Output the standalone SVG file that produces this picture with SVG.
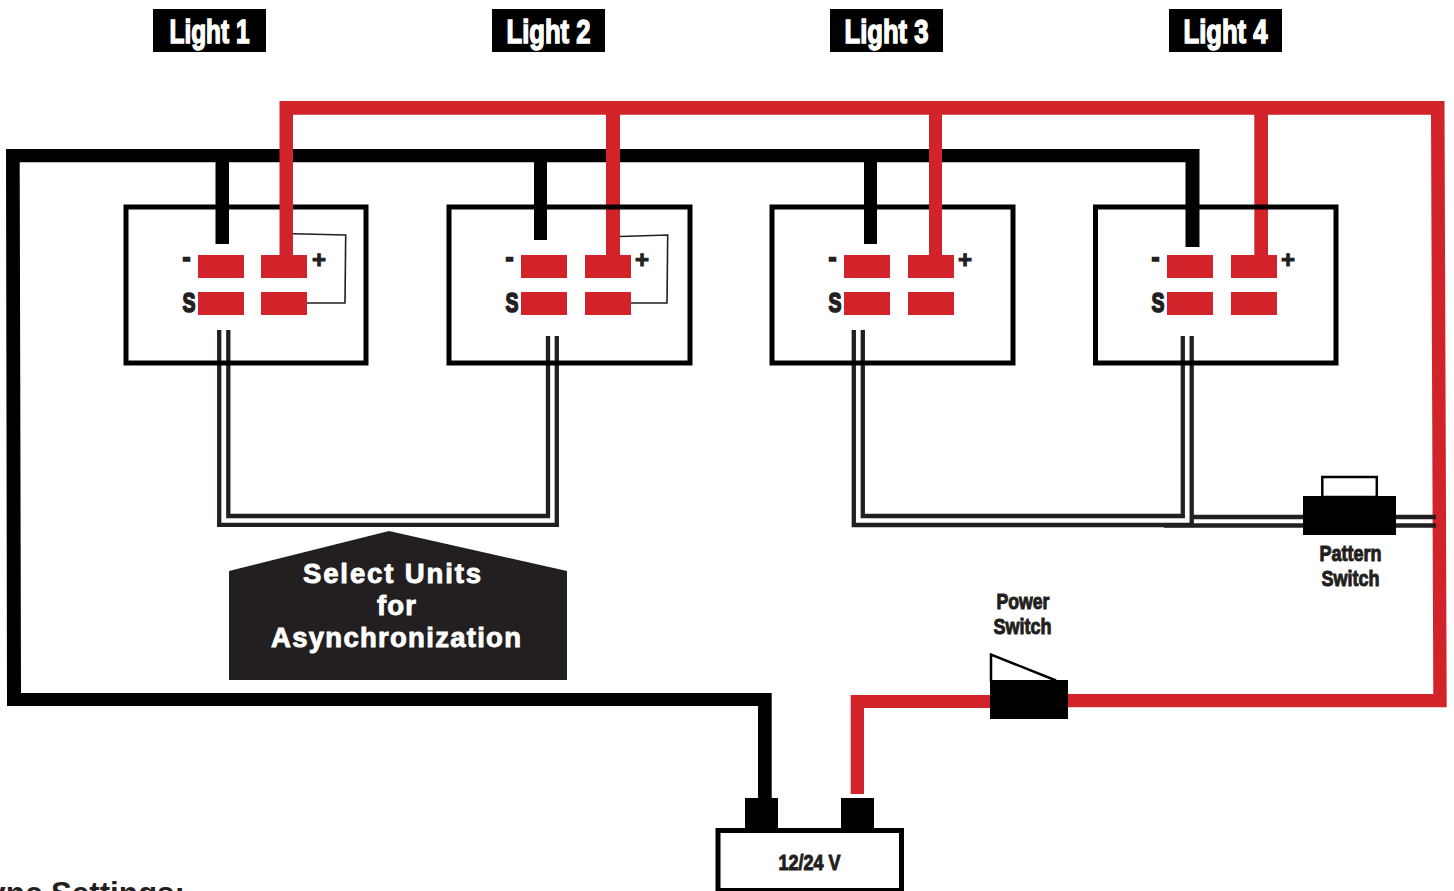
<svg xmlns="http://www.w3.org/2000/svg" width="1454" height="891" viewBox="0 0 1454 891">
<style>
.t{font-family:"Liberation Sans",Arial,sans-serif;font-weight:bold}
.d{fill:#231f20;stroke:#231f20;stroke-width:1}
.m{fill:#231f20;stroke:#231f20;stroke-width:1.7}
.w{fill:#fff;stroke:#fff;stroke-width:1.5}
.frame{fill:none;stroke:#000;stroke-width:5}
.pad{fill:#d2232a}
.blk{fill:#000}
.red{fill:#d2232a}
.thin{fill:none;stroke:#231f20;stroke-width:1.6}
.sig{fill:none;stroke:#231f20;stroke-width:4.3}
.sel{fill:#fff;stroke:#fff;stroke-width:.9;font-size:27.500px}
</style>
<rect width="1454" height="891" fill="#fff"/>
<g id="connectors">
<path class="blk" d="M6 149H1199.500V247H1185.500V162.300H877V244H864V162.300H547V240H534V162.300H229V244H215.500V162.300H19.700L21 693H758V706H7Z"/>
<path class="blk" d="M758 693H771.700V798H758Z"/>
<path class="red" d="M279.500 101H1444.500L1446.700 707.300H1068V694H1433.300L1431 114.700H1268V255H1254.300V114.700H942V255H929V114.700H620V255H606V114.700H293V255H279.500Z"/>
<path class="red" d="M990 695V708H864V794H850.700V695Z"/>
<path class="thin" d="M293 233.700L345.700 235L345 303H307"/>
<path class="thin" d="M620 236.500L667.700 235L667 303H631"/>
<path class="sig" d="M219.200 330V524.800H556.800V336"/>
<path class="sig" d="M228.300 330V516H548V336"/>
<path class="sig" d="M853.800 330V525H1191.700V336"/>
<path class="sig" d="M862.800 330V516H1182.800V336"/>
<path class="sig" d="M1164 525.500H1436"/>
<path class="sig" d="M1193 517H1436"/>
</g>
<g id="light-1"><rect class="blk" x="153" y="9" width="113" height="43"/><text class="t w" x="169.500" y="42.500" font-size="34" textLength="80" lengthAdjust="spacingAndGlyphs">Light 1</text></g>
<g id="light-2"><rect class="blk" x="492" y="9" width="113" height="43"/><text class="t w" x="506.500" y="42.500" font-size="34" textLength="84" lengthAdjust="spacingAndGlyphs">Light 2</text></g>
<g id="light-3"><rect class="blk" x="830" y="9" width="113" height="43"/><text class="t w" x="844.500" y="42.500" font-size="34" textLength="84" lengthAdjust="spacingAndGlyphs">Light 3</text></g>
<g id="light-4"><rect class="blk" x="1169" y="9" width="113" height="43"/><text class="t w" x="1183.500" y="42.500" font-size="34" textLength="84" lengthAdjust="spacingAndGlyphs">Light 4</text></g>
<g id="unit-1"><rect class="frame" x="126" y="207" width="240" height="156"/><rect class="red" x="279.500" y="204" width="13.500" height="6"/><rect class="pad" x="198" y="255" width="46" height="23"/><rect class="pad" x="261" y="255" width="46" height="23"/><rect class="pad" x="198" y="292" width="46" height="23"/><rect class="pad" x="261" y="292" width="46" height="23"/><text class="t m" x="182.500" y="267" font-size="28" textLength="8" lengthAdjust="spacingAndGlyphs">-</text><text class="t m" x="182.500" y="312" font-size="28" textLength="13" lengthAdjust="spacingAndGlyphs">S</text><text class="t d" x="312" y="268" font-size="24">+</text></g>
<g id="unit-2"><rect class="frame" x="449" y="207" width="241" height="156"/><rect class="pad" x="521" y="255" width="46" height="23"/><rect class="pad" x="585" y="255" width="46" height="23"/><rect class="pad" x="521" y="292" width="46" height="23"/><rect class="pad" x="585" y="292" width="46" height="23"/><text class="t m" x="505.500" y="267" font-size="28" textLength="8" lengthAdjust="spacingAndGlyphs">-</text><text class="t m" x="505.500" y="312" font-size="28" textLength="13" lengthAdjust="spacingAndGlyphs">S</text><text class="t d" x="635" y="268" font-size="24">+</text></g>
<g id="unit-3"><rect class="frame" x="772" y="207" width="241" height="156"/><rect class="red" x="929" y="204" width="13" height="6"/><rect class="pad" x="844" y="255" width="46" height="23"/><rect class="pad" x="908" y="255" width="46" height="23"/><rect class="pad" x="844" y="292" width="46" height="23"/><rect class="pad" x="908" y="292" width="46" height="23"/><text class="t m" x="828.500" y="267" font-size="28" textLength="8" lengthAdjust="spacingAndGlyphs">-</text><text class="t m" x="828.500" y="312" font-size="28" textLength="13" lengthAdjust="spacingAndGlyphs">S</text><text class="t d" x="958" y="268" font-size="24">+</text></g>
<g id="unit-4"><rect class="frame" x="1095.500" y="207" width="240.500" height="156"/><rect class="pad" x="1167" y="255" width="46" height="23"/><rect class="pad" x="1231" y="255" width="46" height="23"/><rect class="pad" x="1167" y="292" width="46" height="23"/><rect class="pad" x="1231" y="292" width="46" height="23"/><text class="t m" x="1151.500" y="267" font-size="28" textLength="8" lengthAdjust="spacingAndGlyphs">-</text><text class="t m" x="1151.500" y="312" font-size="28" textLength="13" lengthAdjust="spacingAndGlyphs">S</text><text class="t d" x="1281" y="268" font-size="24">+</text></g>
<g id="select-note"><path fill="#231f20" d="M229 571L389 531L567 571V680H229Z"/>
<text class="t sel" x="303" y="583" textLength="178">Select Units</text>
<text class="t sel" x="377" y="615" textLength="39">for</text>
<text class="t sel" x="271" y="647" textLength="250">Asynchronization</text></g>
<g id="pattern-switch"><rect x="1322.300" y="477" width="54.500" height="20" fill="#fff" stroke="#000" stroke-width="2.500"/><rect class="blk" x="1303" y="496" width="93" height="39"/>
<text class="t d" x="1319.500" y="560.500" font-size="22" textLength="62" lengthAdjust="spacingAndGlyphs">Pattern</text><text class="t d" x="1321.500" y="585.500" font-size="22" textLength="58" lengthAdjust="spacingAndGlyphs">Switch</text></g>
<g id="power-switch"><path d="M991 682V654.500L1056 680.500" fill="#fff" stroke="#000" stroke-width="2.500"/><rect class="blk" x="990" y="680" width="78" height="39"/>
<text class="t d" x="996.500" y="608.500" font-size="22" textLength="53" lengthAdjust="spacingAndGlyphs">Power</text><text class="t d" x="993.500" y="633.500" font-size="22" textLength="58" lengthAdjust="spacingAndGlyphs">Switch</text></g>
<g id="power-supply"><rect class="blk" x="745" y="798" width="33" height="32"/><rect class="blk" x="841" y="798" width="33" height="32"/><rect class="frame" x="718" y="830.500" width="183.500" height="60"/>
<text class="t d" x="778.500" y="869.500" font-size="22" textLength="62" lengthAdjust="spacingAndGlyphs">12/24 V</text></g>
<text class="t" x="-32.500" y="904" font-size="31.300" fill="#231f20">Sync Settings:</text>
</svg>
